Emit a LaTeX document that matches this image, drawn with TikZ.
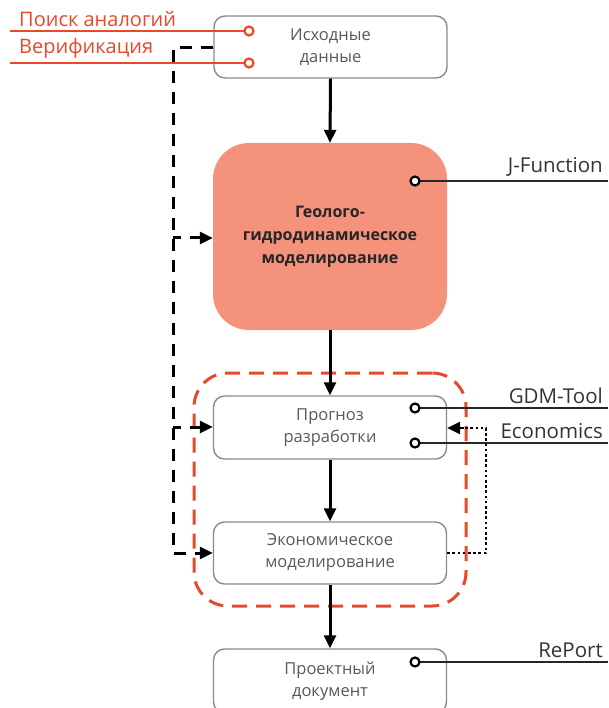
\documentclass[tikz,border=0pt]{standalone}
\usepackage{fontspec}
\setmainfont{Open Sans}
\usetikzlibrary{arrows.meta}
\definecolor{redc}{HTML}{E8482C}
\definecolor{salmon}{HTML}{F4927C}
\definecolor{boxgray}{HTML}{8A8A8A}
\definecolor{txtgray}{HTML}{595959}
\definecolor{lbl}{HTML}{333333}
\begin{document}
\begin{tikzpicture}[x=1pt,y=-1pt,
  box/.style={draw=boxgray, line width=1.4pt, rounded corners=11pt, fill=white,
    minimum width=233pt, minimum height=62pt, align=center, text=txtgray,
    font=\fontsize{16.5}{22}\selectfont},
  geo/.style={fill=salmon, rounded corners=36pt, minimum width=234pt, minimum height=187pt,
    align=center, text=black!85, font=\bfseries\fontsize{16}{23}\selectfont},
  flow/.style={line width=3pt, -{Triangle[length=13pt,width=12pt]}},
  port/.style={circle, draw=black, line width=2.2pt, fill=white, inner sep=0pt, minimum size=9pt},
  rport/.style={circle, draw=redc, line width=2.2pt, fill=white, inner sep=0pt, minimum size=9pt},
  wire/.style={line width=2.8pt, black!85},
  rwire/.style={line width=2.8pt, redc},
  lab/.style={text=lbl, font=\fontsize{20.5}{24}\selectfont, anchor=south east, inner sep=1pt},
  rlab/.style={text=redc, font=\fontsize{20}{24}\selectfont, anchor=south west, inner sep=1pt},
  dsh/.style={line width=3pt, dash pattern=on 12pt off 9pt},
  dtip/.style={-{Triangle[length=13pt,width=12pt]}},
]
\useasboundingbox (0,0) rectangle (608,708);
\clip (0,0) rectangle (608,708);

% group
\node[draw=redc, line width=3pt, dash pattern=on 15pt off 9pt, rounded corners=34pt,
  minimum width=272pt, minimum height=233pt, inner sep=0pt] (grp) at (330,489.5) {};

% boxes
\node[box] (isx) at (330.5,47) {Исходные\\данные};
\node[geo] (geo) at (330,236.5) {Геолого-\\гидродинамическое\\моделирование};
\node[box, minimum height=63pt] (prog) at (330,427.5) {Прогноз\\разработки};
\node[box] (econ) at (330,553) {Экономическое\\моделирование};
\node[box, minimum height=64pt] (proj) at (330,681) {Проектный\\документ};

% flow arrows
\draw[flow] (isx.south) -- (geo.north);
\draw[flow] (geo.south) -- (prog.north);
\draw[flow] (prog.south) -- (econ.north);
\draw[flow] (econ.south) -- (proj.north);

% red inputs
\coordinate (r1) at (10,31);
\coordinate (r2) at (10,63);
\node[rlab] (t1) at (18,28) {Поиск аналогий};
\node[rlab] (t2) at (18,60) {Верификация};
\draw[rwire] (r1) -- (249,31) node[rport] (rc1) {};
\draw[rwire] (r2) -- (249,63) node[rport] (rc2) {};

% dashed feedback
\coordinate (d0) at (173,48);
\coordinate (d1) at (173,553);
\coordinate (b1) at (173,238);
\coordinate (b2) at (173,427);
\draw[dsh] (isx.west |- d0) -- (d0) -- (d1) -- ([xshift=-14pt]econ.west);
\draw[line width=3pt, dtip] ([xshift=-14pt]econ.west) -- (econ.west);
\draw[dsh, dash phase=4pt] (b1) -- ([xshift=-14pt]geo.west |- b1);
\draw[line width=3pt, dtip] ([xshift=-14pt]geo.west |- b1) -- (geo.west |- b1);
\draw[dsh, dash phase=4pt] (b2) -- ([xshift=-14pt]prog.west |- b2);
\draw[line width=3pt, dtip] ([xshift=-14pt]prog.west |- b2) -- (prog.west |- b2);

% dotted
\coordinate (p1) at (486,553);
\coordinate (p2) at (486,428);
\draw[line width=2.6pt, dash pattern=on 2.6pt off 2.6pt] (econ.east) -- (p1) -- (p2) -- (464,428);
\draw[line width=2.6pt, -{Triangle[length=13pt,width=12pt]}] (464,428) -- (prog.east |- p2);

% tool connectors
\coordinate (e1) at (608,181);
\coordinate (e2) at (608,408);
\coordinate (e3) at (608,443);
\coordinate (e4) at (608,662);
\draw[wire] (e1) -- (415,181) node[port] (c1) {};
\draw[wire] (e2) -- (415,408) node[port] (c2) {};
\draw[wire] (e3) -- (415,443) node[port] (c3) {};
\draw[wire] (e4) -- (415,662) node[port] (c4) {};
\node[lab] (l1) at (604,178) {J-Function};
\node[lab] (l2) at (604,405) {GDM-Tool};
\node[lab] (l3) at (604,440) {Economics};
\node[lab] (l4) at (604,659) {RePort};
\end{tikzpicture}
\end{document}
